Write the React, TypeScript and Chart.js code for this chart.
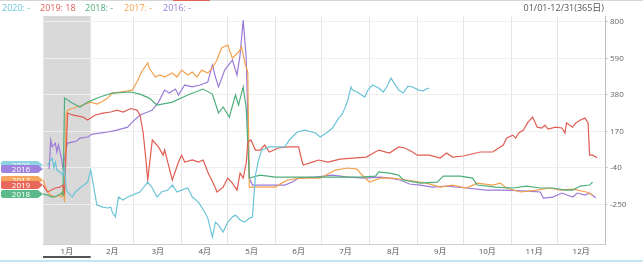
import React, { useEffect, useRef } from "react";
import { Chart, registerables } from "chart.js";

Chart.register(...registerables);

const FONT = '"Open Sans", "Noto Sans CJK JP", sans-serif';

const seriesNames = ["2020", "2019", "2018", "2017", "2016"];
const seriesColors = ["#6cc4d8", "#e15d52", "#4eae7b", "#f3a14f", "#9b7bd7"];
const tagColors = ["#8fd2e4", "#e8685c", "#5cba8a", "#f6a55e", "#a083df"];
const legendValues = ["-", "18", "-", "-", "-"];
const legendLeft = [2, 40, 85, 124, 163];
const monthLabels = ["1月", "2月", "3月", "4月", "5月", "6月", "7月", "8月", "9月", "10月", "11月", "12月"];
const monthStarts = [0, 31, 59, 90, 120, 151, 181, 212, 243, 273, 304, 334, 365];
const yTickValues = [-250, -40, 170, 380, 590, 800];
const yMin = -478;
const yMax = 833;
const rangeLabel = "01/01-12/31(365日)";

const days2020 = [3,5,6,7,8,9,11,13,14,15,16,19,21,24,29,31,35,39,42,44,45,47,49,52,55,58,63,65,68,71,74,77,81,84,87,90,94,97,101,105,107,110,112,114,117,120,123,125,128,131,134,136,138,140,142,147,157,160,165,170,177,180,184,188,192,194,196,198,200,201,204,209,211,214,218,221,224,226,229,231,234,237,240,244,247,249,251];
const vals2020 = [-24,5,16,-41,-7,-53,-64,-82,-36,-156,-179,-208,-179,-156,-122,-53,-254,-266,-271,-266,-294,-323,-208,-225,-208,-197,-179,-156,-122,-156,-208,-179,-168,-139,-179,-168,-156,-208,-237,-294,-329,-438,-352,-369,-409,-352,-323,-312,-340,-352,-329,-323,-82,5,62,80,80,120,166,177,160,137,160,189,246,264,301,350,425,407,396,367,407,436,419,396,436,476,436,407,390,430,425,407,402,413,419];

const days2019 = [0,3,8,11,13,14,16,19,26,29,34,39,44,48,52,57,61,63,65,67,68,71,75,78,79,81,84,88,90,92,97,101,104,107,112,113,117,120,123,126,128,130,132,133,135,138,141,144,147,153,159,166,168,169,175,179,185,193,201,210,218,225,231,235,240,243,251,258,262,266,273,284,292,299,301,305,307,309,312,315,318,321,324,326,328,333,337,339,340,344,346,349,352,354,355,357,360];
const vals2019 = [-139,-179,-156,-151,-139,-179,275,264,252,235,264,275,281,292,281,301,292,264,166,-7,-110,120,80,33,62,-7,-110,-7,33,-7,5,-7,5,-64,-156,-179,-151,-99,-128,-168,-70,-99,-13,108,120,62,62,91,51,74,80,80,5,-24,-7,5,-7,10,16,22,62,45,80,74,51,33,33,16,45,22,28,51,51,91,131,148,131,160,177,223,252,194,189,206,183,194,189,160,218,194,218,235,246,218,33,33,18];

const days2018 = [0,3,6,9,12,13,14,19,24,29,37,45,57,63,69,74,84,94,104,110,114,117,121,125,127,130,132,134,141,151,167,180,193,206,216,218,225,231,234,245,256,260,271,279,282,294,305,314,323,331,339,344,349,355,357];
const vals2018 = [-191,-197,-208,-202,-185,-197,361,333,310,338,367,390,396,384,361,321,338,379,413,384,275,310,252,379,321,425,301,-99,-82,-93,-93,-93,-93,-93,-88,-64,-70,-82,-110,-128,-122,-88,-88,-99,-139,-151,-156,-145,-156,-156,-168,-168,-145,-139,-122];

const days2017 = [0,3,5,8,10,12,13,14,15,16,19,22,26,31,35,38,42,45,50,55,58,61,64,68,69,73,76,79,84,87,90,94,97,100,103,107,110,113,116,120,123,127,129,131,133,134,138,151,155,159,167,180,190,198,204,206,212,219,227,236,249,258,266,275,282,292,297,301,310,321,329,336,344,353,357];
const vals2017 = [-110,-179,-197,-208,-197,-208,-156,-237,264,292,301,310,321,338,327,338,361,390,396,402,407,453,511,563,534,482,494,482,505,482,522,494,511,482,522,505,534,580,649,666,591,626,655,568,511,-151,-151,-151,-128,-110,-99,-99,-53,-41,-47,-70,-122,-99,-99,-110,-128,-151,-139,-156,-128,-139,-128,-156,-179,-168,-156,-168,-162,-179,-197];

const days2016 = [4,5,6,8,9,10,12,13,15,16,19,22,24,29,32,37,42,48,55,58,63,68,71,75,79,82,86,88,92,97,102,107,110,112,114,118,123,126,128,130,132,134,136,157,162,166,177,188,198,209,219,225,232,238,245,253,262,275,288,301,314,323,325,331,337,344,347,352,355,359];
const vals2016 = [-47,120,80,102,51,91,16,-41,74,102,108,114,131,137,154,160,166,177,194,223,264,281,292,338,407,390,413,379,436,425,436,453,551,482,425,522,580,494,609,810,591,-99,-139,-139,-122,-99,-93,-82,-93,-99,-93,-99,-110,-133,-139,-151,-145,-156,-168,-168,-174,-179,-214,-208,-185,-208,-185,-197,-185,-214];

const seriesDays = [days2020, days2019, days2018, days2017, days2016];
const seriesVals = [vals2020, vals2019, vals2018, vals2017, vals2016];
const tagOrder = [0, 4, 3, 1, 2];

const isBoundary = (v: number) => monthStarts.indexOf(v) >= 0;

const bandPlugin = {
  id: "janBand",
  beforeDraw(chart: any) {
    const { ctx, chartArea } = chart;
    const x = chart.scales.x;
    const x0 = x.getPixelForValue(monthStarts[0]);
    const x1 = x.getPixelForValue(monthStarts[1]);
    ctx.save();
    ctx.fillStyle = "#d9d9d9";
    ctx.fillRect(x0, chartArea.top, x1 - x0, chartArea.bottom - chartArea.top);
    ctx.restore();
  },
};

const tagPlugin = {
  id: "startTags",
  afterDraw(chart: any) {
    const { ctx, chartArea } = chart;
    const y = chart.scales.y;
    const x = chart.scales.x;
    ctx.save();
    ctx.strokeStyle = "#555";
    ctx.lineWidth = 2;
    ctx.beginPath();
    ctx.moveTo(x.getPixelForValue(monthStarts[0]), chartArea.bottom + 13);
    ctx.lineTo(x.getPixelForValue(monthStarts[1]), chartArea.bottom + 13);
    ctx.stroke();
    tagOrder.forEach((i) => {
      const py = Math.round(y.getPixelForValue(seriesVals[i][0]));
      const h = 8;
      const x0 = 1;
      const x1 = 38;
      const tip = 43;
      const t = py - h / 2;
      const b = py + h / 2;
      ctx.beginPath();
      ctx.moveTo(x0 + 2, t);
      ctx.lineTo(x1, t);
      ctx.lineTo(tip, py);
      ctx.lineTo(x1, b);
      ctx.lineTo(x0 + 2, b);
      ctx.quadraticCurveTo(x0, b, x0, b - 2);
      ctx.lineTo(x0, t + 2);
      ctx.quadraticCurveTo(x0, t, x0 + 2, t);
      ctx.closePath();
      ctx.fillStyle = tagColors[i];
      ctx.fill();
      ctx.fillStyle = "#ffffff";
      ctx.font = `8px ${FONT}`;
      ctx.textAlign = "center";
      ctx.textBaseline = "middle";
      ctx.fillText(seriesNames[i], 21, py + 0.5);
    });
    ctx.restore();
  },
};

export default function App() {
  const ref = useRef<HTMLCanvasElement>(null);

  useEffect(() => {
    const canvas = ref.current;
    if (!canvas) return;
    const xTicks: { value: number }[] = [];
    for (let i = 0; i < 12; i++) {
      xTicks.push({ value: monthStarts[i] });
      xTicks.push({ value: (monthStarts[i] + monthStarts[i + 1]) / 2 });
    }
    xTicks.push({ value: monthStarts[12] });

    const chart = new Chart(canvas, {
      type: "line",
      data: {
        datasets: seriesNames.map((name, i) => ({
          label: name,
          data: seriesDays[i].map((d, k) => ({ x: d, y: seriesVals[i][k] })),
          borderColor: seriesColors[i],
          backgroundColor: seriesColors[i],
          borderWidth: 1.2,
          pointRadius: 0,
          tension: 0,
          fill: false,
        })),
      },
      options: {
        animation: false,
        responsive: false,
        devicePixelRatio: 1,
        layout: { padding: { left: 43, top: 16, right: 0, bottom: 0 } },
        plugins: { legend: { display: false }, tooltip: { enabled: false } },
        scales: {
          x: {
            type: "linear",
            min: 0,
            max: 365,
            position: "bottom",
            afterBuildTicks: (axis: any) => {
              axis.ticks = xTicks.map((t) => ({ ...t }));
            },
            afterFit: (axis: any) => {
              axis.height = 18;
            },
            ticks: {
              autoSkip: false,
              maxRotation: 0,
              minRotation: 0,
              padding: 3,
              color: "#555",
              font: { family: FONT, size: 8 },
              callback: (v: any) => {
                const idx = monthStarts.findIndex(
                  (s, i) => i < 12 && (s + monthStarts[i + 1]) / 2 === v
                );
                return idx >= 0 ? monthLabels[idx] : "";
              },
            },
            grid: {
              drawTicks: false,
              color: (ctx: any) =>
                ctx.tick && isBoundary(ctx.tick.value) ? "#e6e6e6" : "rgba(0,0,0,0)",
              lineWidth: 1,
            },
            border: { display: true, color: "#cfcfcf" },
          },
          y: {
            type: "linear",
            position: "right",
            min: yMin,
            max: yMax,
            afterBuildTicks: (axis: any) => {
              axis.ticks = yTickValues.map((v) => ({ value: v }));
            },
            afterFit: (axis: any) => {
              axis.width = 38;
            },
            ticks: {
              padding: 2,
              color: "#666",
              font: { family: FONT, size: 8 },
              callback: (v: any) => String(v),
            },
            grid: { color: "#efefef", tickLength: 3, tickColor: "#cfcfcf" },
            border: { display: true, color: "#bdbdbd" },
          },
        },
      },
      plugins: [bandPlugin, tagPlugin],
    } as any);
    return () => chart.destroy();
  }, []);

  return (
    <div
      style={{
        position: "fixed",
        left: 0,
        top: 0,
        width: 643,
        height: 262,
        background: "#fff",
        overflow: "hidden",
        fontFamily: FONT,
      }}
    >
      <canvas
        ref={ref}
        width={643}
        height={262}
        style={{ position: "absolute", left: 0, top: 0, width: 643, height: 262 }}
      />
      <div style={{ position: "absolute", left: 0, top: 0, width: 643, height: 1, background: "#d6d6d6" }} />
      <div style={{ position: "absolute", left: 173, top: 0, width: 37, height: 1, background: "#e0665c" }} />
      {seriesNames.map((n, i) => (
        <span
          key={n}
          style={{
            position: "absolute",
            left: legendLeft[i],
            top: 2,
            fontSize: 9,
            lineHeight: "11px",
            color: seriesColors[i],
            whiteSpace: "nowrap",
          }}
        >
          {n}: {legendValues[i]}
        </span>
      ))}
      <span
        style={{
          position: "absolute",
          right: 39,
          top: 2,
          fontSize: 9,
          lineHeight: "11px",
          color: "#555",
          whiteSpace: "nowrap",
        }}
      >
        {rangeLabel}
      </span>
      <div style={{ position: "absolute", left: 0, top: 260, width: 643, height: 2, background: "#c3e5f1" }} />
    </div>
  );
}
